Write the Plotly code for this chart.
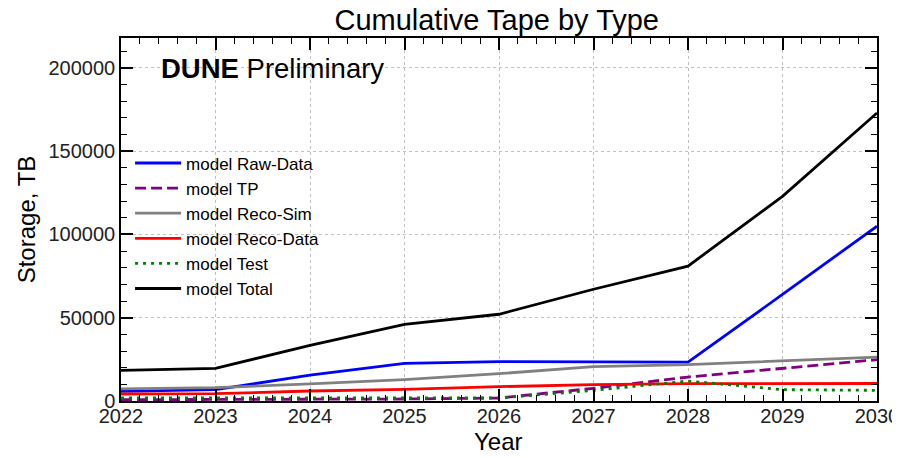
import plotly.graph_objects as go

years = [2022, 2023, 2024, 2025, 2026, 2027, 2028, 2029, 2030]
raw_data = [5800, 6800, 15500, 22600, 23600, 23600, 23400, 64000, 105000]
tp = [800, 800, 1000, 1200, 1800, 7600, 14400, 19800, 24800]
reco_sim = [7300, 8000, 10300, 12800, 16400, 20600, 21800, 24000, 26400]
reco_data = [4200, 4400, 6000, 7000, 8600, 9800, 10400, 10400, 10500]
test = [1800, 1800, 1800, 1800, 1800, 6400, 12000, 6800, 6400]
total = [18400, 19600, 33400, 46000, 52100, 67100, 81000, 122900, 173000]

series = [
    ("model Raw-Data", raw_data, "#0000ff", "solid"),
    ("model TP", tp, "#800080", "11px,5px"),
    ("model Reco-Sim", reco_sim, "#808080", "solid"),
    ("model Reco-Data", reco_data, "#ff0000", "solid"),
    ("model Test", test, "#008000", "3px,5px"),
    ("model Total", total, "#000000", "solid"),
]

FONT = "Liberation Sans, Arial, sans-serif"

fig = go.Figure()
for name, vals, color, dash in series:
    fig.add_trace(go.Scatter(
        x=years, y=vals, mode="lines", name=name,
        line=dict(color=color, width=2.8, dash=dash),
    ))

axis_common = dict(
    showline=True, linecolor="black", linewidth=1.5, mirror="ticks",
    ticks="inside", ticklen=12, tickwidth=1.5, tickcolor="black",
    showgrid=True, gridcolor="#c0c0c0", griddash="3px,3px", gridwidth=0.8,
    zeroline=False, automargin=False,
    tickfont=dict(family=FONT, size=20, color="#222222"),
)

# The page body has an 8px margin, so the figure is smaller than the window
fig.update_layout(
    width=892, height=442,
    margin=dict(l=113, r=23, t=30, b=49),
    paper_bgcolor="white", plot_bgcolor="white",
    font=dict(family=FONT, color="black"),
    title=dict(text="Cumulative Tape by Type", x=0.497, xanchor="center",
               xref="paper", y=0.973, yanchor="middle",
               font=dict(family=FONT, size=29, color="black")),
    xaxis=dict(range=[2022, 2030], dtick=1, tick0=2022,
               ticklabelstandoff=-4,
               minor=dict(dtick=0.2, ticks="inside", ticklen=6, tickwidth=1.2,
                          tickcolor="black", showgrid=False),
               **axis_common),
    yaxis=dict(range=[0, 218000], dtick=50000, tickformat="d",
               title=dict(text="Storage, TB", font=dict(family=FONT, size=24), standoff=6),
               minor=dict(dtick=10000, ticks="inside", ticklen=6, tickwidth=1.2,
                          tickcolor="black", showgrid=False),
               **axis_common),
    legend=dict(x=0.012, y=0.704, xanchor="left", yanchor="top",
                bgcolor="rgba(0,0,0,0)", itemwidth=46,
                font=dict(family=FONT, size=17, color="black")),
    annotations=[
        dict(text="<b>DUNE</b> Preliminary", xref="paper", yref="paper",
             x=0.05, y=0.917, xanchor="left", yanchor="middle", showarrow=False,
             font=dict(family=FONT, size=27.5, color="black")),
        dict(text="Year", xref="paper", yref="paper",
             x=0.4987, y=-0.112, xanchor="center", yanchor="middle", showarrow=False,
             font=dict(family=FONT, size=24, color="black")),
    ],
)

fig.write_html("out.html")
